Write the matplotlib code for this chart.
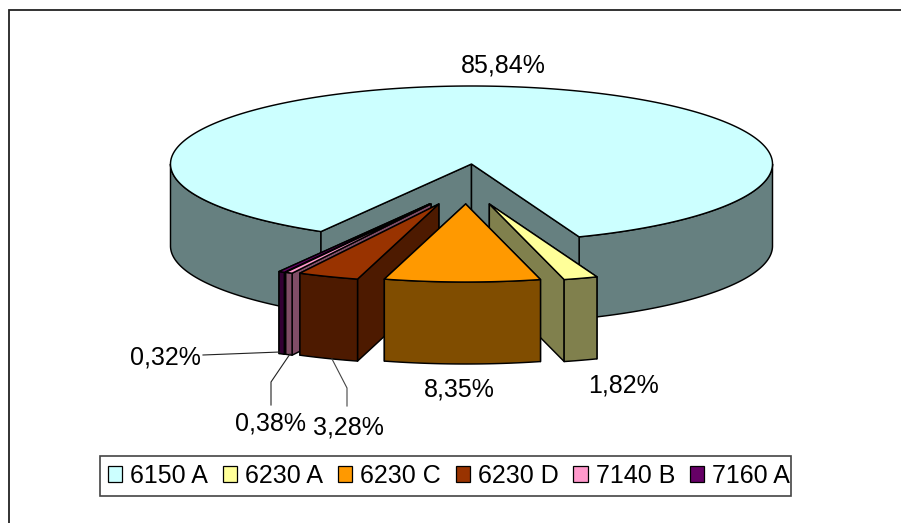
import numpy as np
import matplotlib
matplotlib.use('Agg')
import matplotlib.pyplot as plt
from matplotlib.patches import Polygon, Patch, Rectangle

plt.rcParams['font.family'] = ['Liberation Sans', 'DejaVu Sans']

# data
categories = ['6150 A', '6230 A', '6230 C', '6230 D', '7140 B', '7160 A']
values = [85.84, 1.82, 8.35, 3.28, 0.38, 0.32]
value_labels = ['85,84%', '1,82%', '8,35%', '3,28%', '0,38%', '0,32%']
top_colors = ['#CCFFFF', '#FFFF99', '#FF9900', '#993300', '#FF99CC', '#660066']
side_colors = ['#668080', '#80804D', '#804D00', '#4D1A00', '#804D66', '#330033']

# pie layout, in pixels
cx, cy = 471.5, 164
rx, ry = 301, 78
depth = 82
start_angle = -30  # degrees from straight down, positive to the right
explode_x = 0.25
explode_y = 40
line_w = 1.05

fig = plt.figure(figsize=(9.01, 5.23), dpi=100)
ax = fig.add_axes([0, 0, 1, 1])
ax.set_xlim(0, 901)
ax.set_ylim(523, 0)
ax.axis('off')


def rim(t0, t1, x0, y0, dy=0):
    t = np.radians(np.linspace(t0, t1, max(int(abs(t1 - t0) * 2), 2)))
    return np.column_stack([x0 + rx * np.sin(t), y0 + ry * np.cos(t) + dy])


def face(points, color, z):
    ax.add_patch(Polygon(points, closed=True, facecolor=color, edgecolor='black',
                         linewidth=line_w, joinstyle='round', zorder=z))


def wall(t, x0, y0, color, z):
    p = rim(t, t, x0, y0)[0]
    face([(x0, y0), p, (p[0], p[1] + depth), (x0, y0 + depth)], color, z)


def outer(t0, t1, x0, y0, color, z):
    face(np.vstack([rim(t0, t1, x0, y0), rim(t1, t0, x0, y0, depth)]), color, z)


# slice limits follow from the values, going clockwise
sweeps = np.array(values) / np.sum(values) * 360
ends = start_angle - np.cumsum(sweeps)
starts = ends + sweeps

# big slice: only the front part of the rim shows
t0, t1 = starts[0], ends[0]
outer(t0, -90, cx, cy, side_colors[0], 1)
outer(-270, t1, cx, cy, side_colors[0], 1)
wall(t0, cx, cy, side_colors[0], 2)
wall(t1, cx, cy, side_colors[0], 2)
face(np.vstack([[(cx, cy)], rim(t0, t1, cx, cy)]), top_colors[0], 3)

# exploded slices, back to front
for z, i in enumerate([5, 4, 3, 1, 2]):
    t0, t1 = starts[i], ends[i]
    mid = np.radians((t0 + t1) / 2)
    x0 = cx - 5 + explode_x * rx * np.sin(mid)
    y0 = cy + explode_y
    base = 10 + z * 3
    # wall further from the front first, the one that shows goes on top of it
    for t in sorted([t0, t1], key=lambda a: abs(np.sin(np.radians(a))), reverse=True):
        wall(t, x0, y0, side_colors[i], base)
    outer(t0, t1, x0, y0, side_colors[i], base + 1)
    face(np.vstack([[(x0, y0)], rim(t0, t1, x0, y0)]), top_colors[i], base + 2)

# value labels and leader lines
label_pos = [(503, 65), (624, 386), (459, 390), (348, 427), (271, 423), (165, 358)]
for txt, (x, y) in zip(value_labels, label_pos):
    ax.text(x, y, txt, fontsize=18, ha='center', va='center', color='black', zorder=40)

ax.plot([203, 280], [355, 352], color='#222222', lw=0.8, zorder=30)
ax.plot([290, 271, 271], [354, 382, 405], color='#222222', lw=0.8, zorder=30)
ax.plot([332, 347, 347], [359, 388, 406], color='#444444', lw=0.8, zorder=30)

# chart area frame, only top and left are in the picture
ax.plot([9, 9, 901], [523, 10, 10], color='#222222', lw=1.3, zorder=30, solid_joinstyle='miter')

# legend box drawn apart so its size does not hang on the text
ax.add_patch(Rectangle((100, 456), 691, 40, facecolor='white', edgecolor='#444444',
                       linewidth=1.2, zorder=45))
handles = [Patch(facecolor=c, edgecolor='black', linewidth=0.9) for c in top_colors]
leg = ax.legend(handles, categories, ncol=6, fontsize=18, loc='center',
                bbox_to_anchor=(449, 476), bbox_transform=ax.transData,
                handlelength=0.58, handleheight=0.58, handletextpad=0.32,
                columnspacing=0.58, borderpad=0.3, borderaxespad=0,
                frameon=False)
leg.set_zorder(50)

fig.savefig('out.png', dpi=100)
